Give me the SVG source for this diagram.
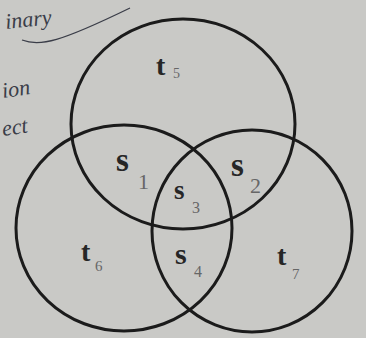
<svg xmlns="http://www.w3.org/2000/svg" width="366" height="338" viewBox="0 0 366 338">
<style>
.c{fill:none;stroke:#1b1b1b;stroke-width:3}
.m{font-family:"Liberation Serif",serif;font-weight:bold;fill:#262626}
.sub{font-family:"Liberation Serif",serif;fill:#666}
.hw{font-family:"Liberation Serif",serif;font-style:italic;fill:#3a3d48;font-size:22px}
</style>
<rect width="366" height="338" fill="#c9c9c6"/>
<g id="margin-notes">
<text class="hw" x="6" y="29" transform="rotate(-6 6 29)">inary</text>
<path d="M22 40 C40 47 60 42 130 8" fill="none" stroke="#3a3d48" stroke-width="1.3"/>
<text class="hw" x="3" y="98" transform="rotate(-8 3 98)">ion</text>
<text class="hw" x="3" y="136" transform="rotate(-8 3 136)">ect</text>
</g>
<g id="connectors">
<ellipse id="circle-top" class="c" cx="183" cy="124" rx="112" ry="105"/>
<ellipse id="circle-left" class="c" cx="124" cy="228" rx="108" ry="103"/>
<ellipse id="circle-right" class="c" cx="252" cy="231" rx="100" ry="101"/>
</g>
<g id="t5"><text class="m" x="156" y="75" font-size="28">t</text><text class="sub" x="173" y="78" font-size="14">5</text></g>
<g id="s1"><text class="m" x="116" y="171" font-size="33">s</text><text class="sub" x="138" y="189" font-size="22">1</text></g>
<g id="s3"><text class="m" x="174" y="199" font-size="27">s</text><text class="sub" x="192" y="213" font-size="16">3</text></g>
<g id="s2"><text class="m" x="231" y="176" font-size="33">s</text><text class="sub" x="250" y="193" font-size="22">2</text></g>
<g id="t6"><text class="m" x="81" y="261" font-size="28">t</text><text class="sub" x="95" y="271" font-size="15">6</text></g>
<g id="s4"><text class="m" x="175" y="264" font-size="30">s</text><text class="sub" x="194" y="277" font-size="16">4</text></g>
<g id="t7"><text class="m" x="277" y="265" font-size="28">t</text><text class="sub" x="292" y="279" font-size="15">7</text></g>
</svg>
